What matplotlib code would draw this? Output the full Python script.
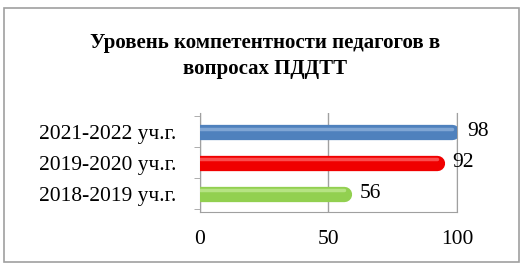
import matplotlib.pyplot as plt
from matplotlib.patches import Rectangle

plt.rcParams['font.family'] = ['Liberation Serif', 'DejaVu Serif']

# данные
years = ['2018-2019 уч.г.', '2019-2020 уч.г.', '2021-2022 уч.г.']
values = [56, 92, 98]
colors = ['#92D050', '#F00000', '#4F81BD']
highlights = ['#C6EC9A', '#FF7070', '#95B6DE']
x_ticks = [0, 50, 100]
title = 'Уровень компетентности педагогов в\nвопросах ПДДТТ'

fig = plt.figure(figsize=(5.23, 2.73), dpi=100)
fig.patches.append(Rectangle((0.008, 0.04), 0.985, 0.93, transform=fig.transFigure,
                             fill=False, edgecolor='#A0A0A0', linewidth=1.2))
fig.text(0.507, 0.795, title, ha='center', va='center', fontsize=15,
         fontweight='bold', linespacing=1.4)

ax = fig.add_axes([0.382, 0.223, 0.492, 0.363])
ypos = range(len(values))
for y, v, c, h in zip(ypos, values, colors, highlights):
    ax.plot([0, v], [y, y], color=c, linewidth=11, solid_capstyle='round', zorder=3)
    ax.plot([0, v], [y + 0.1, y + 0.1], color=h, linewidth=2.5,
            solid_capstyle='round', zorder=4, alpha=0.7)
    ax.text(v + 6, y, str(v), va='center', ha='left', fontsize=15.5)

ax.set_xlim(0, 100)
ax.set_ylim(-0.6, 2.6)
ax.set_yticks(list(ypos))
ax.set_yticklabels(years, fontsize=15.5)
ax.set_xticks(x_ticks)
ax.set_xticklabels([str(t) for t in x_ticks], fontsize=15.5)
ax.tick_params(axis='y', length=0, pad=17)
ax.tick_params(axis='x', length=0, pad=13)
ax.set_yticks([-0.5, 0.5, 1.5, 2.5], minor=True)
ax.tick_params(axis='y', which='minor', length=4, color='#A0A0A0')
ax.xaxis.grid(True, color='#A0A0A0', linewidth=1)
ax.set_axisbelow(True)
for s in ['left', 'bottom', 'right']:
    ax.spines[s].set_color('#A0A0A0')
ax.spines['top'].set_visible(False)

fig.savefig('out.png', dpi=100)
